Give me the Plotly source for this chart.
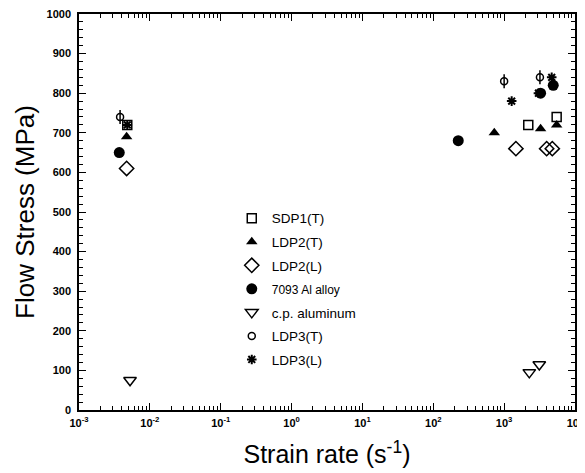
import plotly.graph_objects as go

# ---- data ----
sdp1_x = [0.0048, 2190, 5510]
sdp1_y = [720, 720, 740]

ldp2t_x = [0.0047, 726, 3270, 5510]
ldp2t_y = [690, 700, 710, 720]

ldp2l_x = [0.0047, 1466, 3980, 4780]
ldp2l_y = [610, 660, 660, 660]

al7093_x = [0.0037, 225, 3270, 4930]
al7093_y = [650, 680, 800, 820]

cpal_x = [0.00525, 2265, 3133]
cpal_y = [75, 95, 115]

ldp3t_x = [0.0038, 1000, 3200]
ldp3t_y = [740, 830, 840]

ldp3l_x = [0.0048, 1277, 3050, 4690]
ldp3l_y = [720, 780, 800, 840]

x_tick_vals = [1e-3, 1e-2, 1e-1, 1, 10, 100, 1000, 10000]
x_tick_text = ["10<sup>-3</sup>", "10<sup>-2</sup>", "10<sup>-1</sup>", "10<sup>0</sup>",
               "10<sup>1</sup>", "10<sup>2</sup>", "10<sup>3</sup>", "10<sup>4</sup>"]
y_tick_vals = list(range(0, 1001, 100))

FONT = "Liberation Sans, Arial, Helvetica, sans-serif"

fig = go.Figure()

def add(name, xs, ys, symbol, size, lw=1.5, showlegend=True, group=None):
    fig.add_trace(go.Scatter(
        x=xs, y=ys, mode="markers", name=name,
        legendgroup=group or name, showlegend=showlegend,
        marker=dict(symbol=symbol, size=size, color="black",
                    line=dict(color="black", width=lw)),
    ))

add("SDP1(T)", sdp1_x, sdp1_y, "square-open", 9)
add("LDP2(T)", ldp2t_x, ldp2t_y, "triangle-up", 10, lw=0)
add("LDP2(L)", ldp2l_x, ldp2l_y, "diamond-open", 11)
add("<span style='font-size:12px'>7093 Al alloy</span>", al7093_x, al7093_y, "circle", 11, lw=0,
    group="7093")
add("c.p. aluminum", cpal_x, cpal_y, "triangle-down-open", 11)
add("LDP3(T)", ldp3t_x, ldp3t_y, "circle-open", 7)
add("LDP3(T)", ldp3t_x, ldp3t_y, "line-ns-open", 10, showlegend=False, group="LDP3(T)")
add("LDP3(L)", ldp3l_x, ldp3l_y, "asterisk-open", 8, lw=2)

axis_common = dict(
    showline=True, linecolor="black", linewidth=1.5, mirror="ticks",
    ticks="inside", ticklen=7, tickwidth=1.2, tickcolor="black",
    showgrid=False, zeroline=False, automargin=False,
    ticklabeloverflow="allow",
    tickfont=dict(family=FONT, size=11, color="black", weight="bold"),
)

fig.update_xaxes(
    type="log", range=[-3, 4],
    tickvals=x_tick_vals, ticktext=x_tick_text, ticklabelstandoff=2,
    minor=dict(dtick="D1", ticks="inside", ticklen=4, tickwidth=1, tickcolor="black"),
    title=dict(text="Strain rate (s<sup>-1</sup>)", font=dict(family=FONT, size=25, color="black"),
               standoff=18),
    **axis_common,
)
fig.update_yaxes(
    range=[0, 1000], tickvals=y_tick_vals, ticklabelstandoff=4,
    minor=dict(dtick=20, ticks="inside", ticklen=4, tickwidth=1, tickcolor="black"),
    title=dict(text="Flow Stress (MPa)", font=dict(family=FONT, size=26, color="black"),
               standoff=4),
    **axis_common,
)

# the page has an 8px body margin, so the figure is sized to fit the window
fig.update_layout(
    width=577, height=465,
    margin=dict(l=71, r=10, t=6, b=63),
    paper_bgcolor="white", plot_bgcolor="white",
    showlegend=True,
    legend=dict(x=0.308, y=0.523, xanchor="left", yanchor="top",
                bgcolor="rgba(0,0,0,0)", tracegroupgap=3,
                font=dict(family=FONT, size=13.5, color="black")),
)

fig.write_html("out.html")
